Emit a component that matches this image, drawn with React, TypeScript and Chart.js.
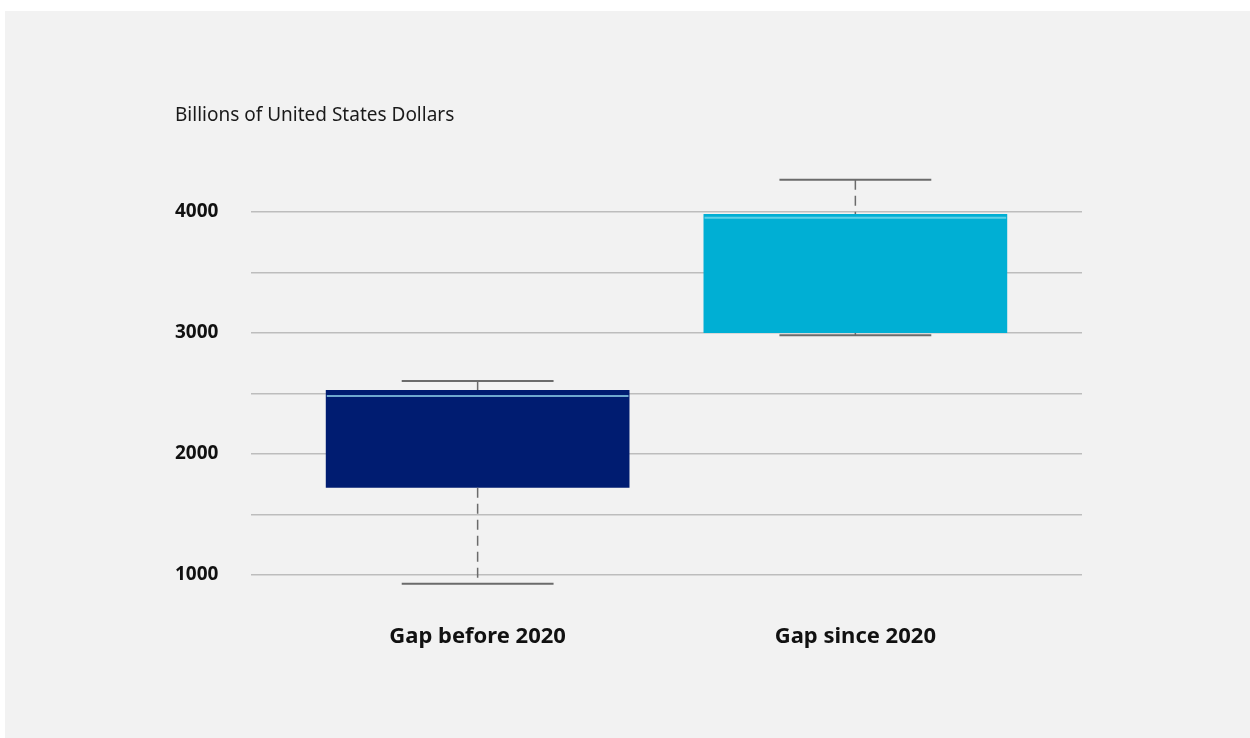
import React, { useEffect, useRef } from "react";
import { Chart, registerables } from "chart.js";

Chart.register(...registerables);

const categories = ["Gap before 2020", "Gap since 2020"];
const minValues = [926, 2981];
const q1Values = [1721, 3000];
const medianValues = [2479, 3953];
const q3Values = [2529, 3983];
const maxValues = [2603, 4267];
const gridValues = [1000, 1500, 2000, 2500, 3000, 3500, 4000];
const labeledTicks = [1000, 2000, 3000, 4000];
const boxColors = ["#001c71", "#00afd4"];
const medianColors = ["#6fa9cf", "#5fd0e6"];
const yTitle = "Billions of United States Dollars";

const FONT = "'Noto Sans', 'Open Sans', sans-serif";

const whiskerPlugin = {
  id: "whiskers",
  afterDatasetsDraw(chart: any) {
    const ctx = chart.ctx;
    const xs = chart.scales.x;
    const ys = chart.scales.y;
    const meta = chart.getDatasetMeta(0);
    ctx.save();
    categories.forEach((_, i) => {
      const bar = meta.data[i];
      const cx = xs.getPixelForValue(i);
      const w = bar.width;
      const capHalf = w * 0.25;
      const yMin = ys.getPixelForValue(minValues[i]);
      const yMax = ys.getPixelForValue(maxValues[i]);
      const yQ1 = ys.getPixelForValue(q1Values[i]);
      const yQ3 = ys.getPixelForValue(q3Values[i]);
      const yMed = ys.getPixelForValue(medianValues[i]);
      ctx.strokeStyle = "#6b6b6b";
      ctx.lineWidth = 1.5;
      ctx.setLineDash([10, 6]);
      ctx.beginPath();
      ctx.moveTo(cx, yMax);
      ctx.lineTo(cx, yQ3);
      ctx.moveTo(cx, yQ1);
      ctx.lineTo(cx, yMin);
      ctx.stroke();
      ctx.setLineDash([]);
      ctx.lineWidth = 2;
      ctx.beginPath();
      ctx.moveTo(cx - capHalf, yMax);
      ctx.lineTo(cx + capHalf, yMax);
      ctx.moveTo(cx - capHalf, yMin);
      ctx.lineTo(cx + capHalf, yMin);
      ctx.stroke();
      ctx.strokeStyle = medianColors[i];
      ctx.lineWidth = 2;
      ctx.beginPath();
      ctx.moveTo(cx - w / 2 + 1, yMed);
      ctx.lineTo(cx + w / 2 - 1, yMed);
      ctx.stroke();
    });
    ctx.restore();
  },
};

export default function App() {
  const ref = useRef<HTMLCanvasElement>(null);
  useEffect(() => {
    if (!ref.current) return;
    const chart = new Chart(ref.current, {
      type: "bar",
      data: {
        datasets: [
          {
            data: categories.map((_, i) => ({ x: i, y: [q1Values[i], q3Values[i]] })) as any,
            backgroundColor: boxColors,
            borderWidth: 0,
            barPercentage: 0.804,
            categoryPercentage: 1,
          },
        ],
      },
      plugins: [whiskerPlugin],
      options: {
        responsive: false,
        animation: false,
        layout: { padding: { left: 170, right: 168, top: 93, bottom: 85 } },
        plugins: {
          legend: { display: false },
          tooltip: { enabled: false },
          title: {
            display: true,
            text: yTitle,
            align: "start",
            color: "#1a1a1a",
            font: { family: FONT, size: 19, weight: "normal" },
            padding: { top: 0, bottom: 36.8 },
          },
        },
        scales: {
          x: {
            type: "linear",
            min: -0.6,
            max: 1.6,
            offset: false,
            grid: { display: false, drawTicks: false },
            border: { display: false },
            afterBuildTicks: (s: any) => {
              s.ticks = categories.map((_, i) => ({ value: i }));
            },
            afterFit: (s: any) => {
              s.height = 60;
            },
            ticks: {
              padding: 31,
              color: "#111",
              font: { family: FONT, size: 22, weight: "bold" },
              callback: (v: any) => categories[v as number] ?? "",
            },
          },
          y: {
            min: 850,
            max: 4400,
            grid: { color: "#bdbdbd", lineWidth: 1.5, drawTicks: false },
            border: { display: false },
            afterBuildTicks: (s: any) => {
              s.ticks = gridValues.map((v) => ({ value: v }));
            },
            afterFit: (s: any) => {
              s.width = 76;
            },
            ticks: {
              crossAlign: "far",
              color: "#111",
              font: { family: FONT, size: 19, weight: "bold" },
              callback: (v: any) => (labeledTicks.includes(v) ? String(v) : ""),
            },
          },
        },
      } as any,
    });
    return () => chart.destroy();
  }, []);
  return (
    <div
      style={{
        position: "fixed",
        left: 5,
        top: 11,
        width: 1245,
        height: 727,
        background: "#f2f2f2",
      }}
    >
      <canvas ref={ref} width={1245} height={727} style={{ display: "block" }} />
    </div>
  );
}
